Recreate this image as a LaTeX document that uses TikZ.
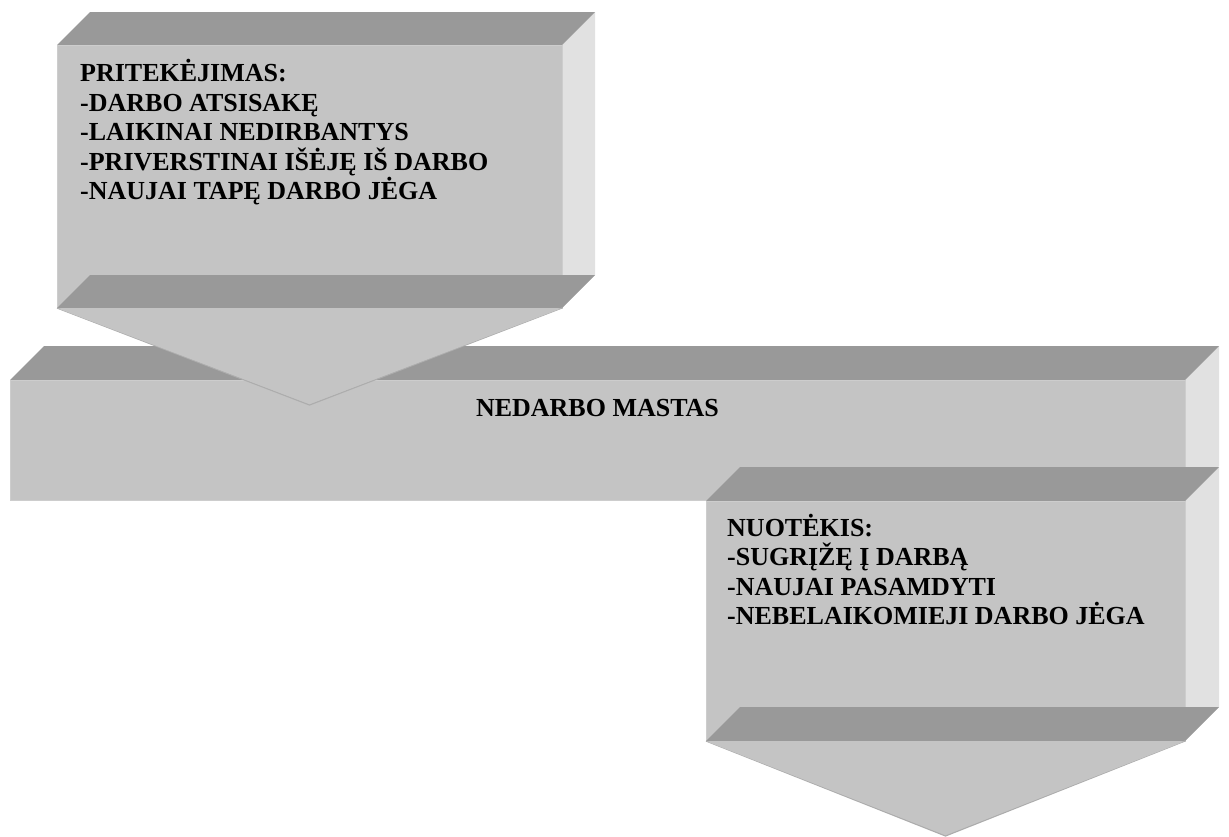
\documentclass[tikz,border=0pt]{standalone}
\usepackage{fontspec}
\setmainfont{Liberation Serif}
\begin{document}
\definecolor{facefront}{HTML}{C4C4C4}
\definecolor{facetop}{HTML}{999999}
\definecolor{faceside}{HTML}{E1E1E1}
\definecolor{faceedge}{HTML}{CDCDCD}
\definecolor{tipedge}{HTML}{ADADAD}
\begin{tikzpicture}[x=1pt,y=-1pt,
  front/.style={fill=facefront,draw=faceedge,line width=1pt},
  topface/.style={fill=facetop},
  sideface/.style={fill=faceside},
  tipface/.style={fill=facefront,draw=tipedge,line width=1.2pt,line join=miter},
  label/.style={inner sep=0pt,font=\bfseries\fontsize{26pt}{29.5pt}\selectfont,text=black},
  % multi-line labels are placed by the baseline of their last line
  listlabel/.style={label,align=left,anchor=base west}]
\useasboundingbox (0,0) rectangle (1229,836);

% ---- central bar (NEDARBO MASTAS) ----
\fill[sideface] (1185,380) -- (1219,346) -- (1219,466) -- (1185,500) -- cycle;
\fill[topface] (10,380) -- (44,346) -- (1219,346) -- (1185,380) -- cycle;
\draw[front] (10,380) rectangle (1185,500);
\node[label,anchor=base] (mastas) at (597.5,416) {NEDARBO MASTAS};

% ---- upper arrow (inflow) ----
\fill[sideface] (562,45) -- (595,12) -- (595,275) -- (562,308) -- cycle;
\fill[topface] (57,45) -- (90,12) -- (595,12) -- (562,45) -- cycle;
\draw[front] (57,45) rectangle (562,308);
\fill[topface] (57,308) -- (90,275) -- (595,275) -- (562,308) -- cycle;
\draw[tipface] (57,308) -- (309.5,405) -- (562,308);
\fill[facefront] (58,308.6) -- (309.5,404) -- (561,308.6) -- cycle;
\node[listlabel] (inflow) at (80,199.5) {PRITEKĖJIMAS:\\
  -DARBO ATSISAKĘ\\
  -LAIKINAI NEDIRBANTYS\\
  -PRIVERSTINAI IŠĖJĘ IŠ DARBO\\
  -NAUJAI TAPĘ DARBO JĖGA};

% ---- lower arrow (outflow) ----
\fill[sideface] (1185,501) -- (1219,467) -- (1219,707) -- (1185,741) -- cycle;
\fill[topface] (706,501) -- (740,467) -- (1219,467) -- (1185,501) -- cycle;
\draw[front] (706,501) rectangle (1185,741);
\fill[topface] (706,741) -- (740,707) -- (1219,707) -- (1185,741) -- cycle;
\draw[tipface] (706,741) -- (945.5,836) -- (1185,741);
\fill[facefront] (707,741.6) -- (945.5,835) -- (1184,741.6) -- cycle;
\node[listlabel] (outflow) at (727,624.5) {NUOTĖKIS:\\
  -SUGRĮŽĘ Į DARBĄ\\
  -NAUJAI PASAMDYTI\\
  -NEBELAIKOMIEJI DARBO JĖGA};
\end{tikzpicture}
\end{document}
